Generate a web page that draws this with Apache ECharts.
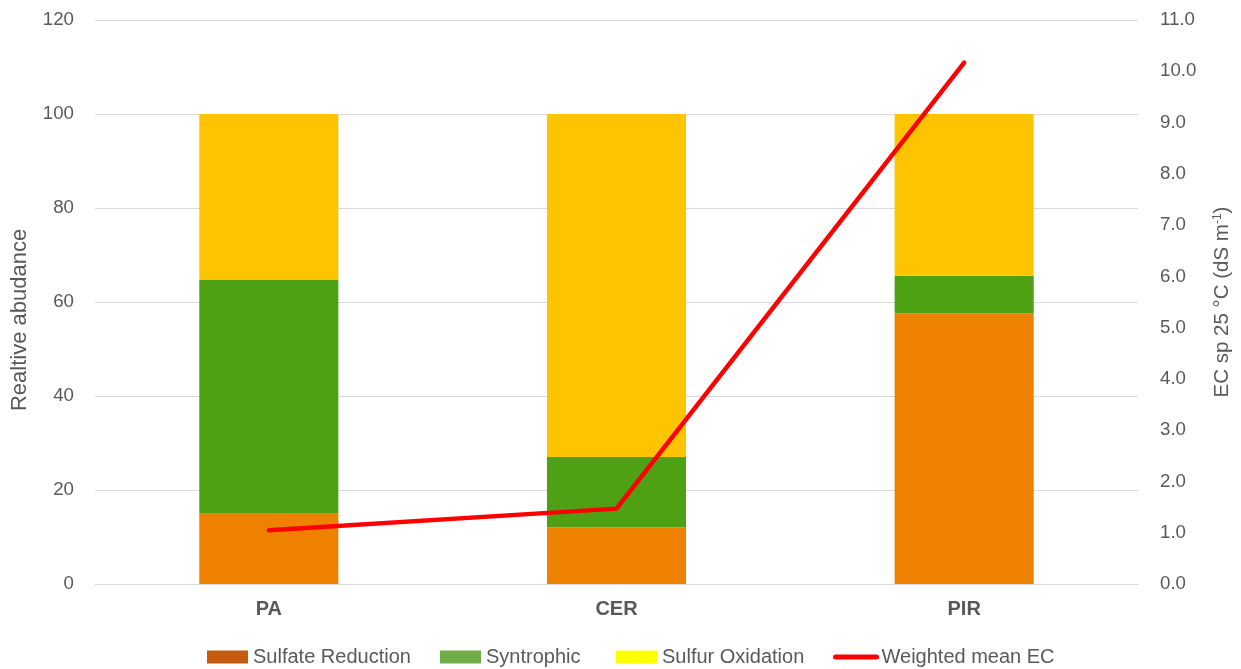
<!DOCTYPE html>
<html>
<head>
<meta charset="utf-8">
<script src="https://cdn.jsdelivr.net/npm/echarts@6/dist/echarts.min.js"></script>
<style>
  html, body { margin: 0; padding: 0; background: #ffffff; }
  #chart { width: 1241px; height: 669px; }
</style>
</head>
<body>
<div id="chart"></div>
<script>
// Sites and functional-group relative abundance (%), stacked to 100
const sites = ['PA', 'CER', 'PIR'];
const sulfateReduction = [15.1, 12.0, 57.6];
const syntrophic = [49.6, 15.0, 8.0];
const sulfurOxidation = [35.3, 73.0, 34.4];
// Weighted mean electrical conductivity (dS m-1)
const weightedMeanEC = [1.05, 1.47, 10.17];

const FONT = '"Liberation Sans", Arial, sans-serif';
const FS_TICK = 18.7;
const FS_TEXT = 20;
const TXT = '#595959';

// One legend block per entry, laid out in fixed columns
function legendEntry(left, item) {
  return {
    left: left,
    top: 647,
    padding: 0,
    itemWidth: 41,
    itemHeight: 13,
    textStyle: { fontFamily: FONT, fontSize: FS_TEXT, color: TXT },
    data: [item]
  };
}

const chart = echarts.init(document.getElementById('chart'), null, { renderer: 'canvas' });

chart.setOption({
  animation: false,
  backgroundColor: '#ffffff',
  textStyle: { fontFamily: FONT },
  grid: { left: 95, right: 103, top: 20, bottom: 85, containLabel: false, outerBoundsMode: 'none' },
  legend: [
    legendEntry(207, { name: 'Sulfate Reduction', icon: 'rect', itemStyle: { color: '#C55A11' } }),
    legendEntry(440, { name: 'Syntrophic', icon: 'rect', itemStyle: { color: '#70AD47' } }),
    legendEntry(616, { name: 'Sulfur Oxidation', icon: 'rect', itemStyle: { color: '#FFFF00' } }),
    legendEntry(833, {
      name: 'Weighted mean EC',
      itemStyle: { opacity: 0 },
      lineStyle: { color: '#FF0000', width: 5, cap: 'round' }
    })
  ],
  xAxis: {
    type: 'category',
    data: sites,
    axisLine: { show: true, lineStyle: { color: '#d9d9d9', width: 1 } },
    axisTick: { show: false },
    axisLabel: { fontFamily: FONT, fontSize: FS_TEXT, fontWeight: 'bold', color: TXT, margin: 15 }
  },
  yAxis: [
    {
      type: 'value',
      min: 0, max: 120, interval: 20,
      name: 'Realtive abudance',
      nameLocation: 'middle',
      nameGap: 64,
      nameTextStyle: { fontFamily: FONT, fontSize: 22, color: TXT, padding: [0, 36, 0, 0] },
      axisLine: { show: false },
      axisTick: { show: false },
      axisLabel: { fontFamily: FONT, fontSize: FS_TICK, color: TXT, margin: 21 },
      splitLine: { show: true, lineStyle: { color: '#d9d9d9', width: 1 } }
    },
    {
      type: 'value',
      min: 0, max: 11, interval: 1,
      position: 'right',
      name: 'EC sp 25 °C (dS m{sup|-1})',
      nameLocation: 'middle',
      nameGap: 74,
      nameRotate: 90,
      nameTextStyle: {
        fontFamily: FONT, fontSize: 20.5, color: TXT,
        rich: {
          sup: { fontFamily: FONT, fontSize: 12, color: TXT, verticalAlign: 'top', padding: [0, 0, 8, 0] }
        }
      },
      axisLine: { show: false },
      axisTick: { show: false },
      axisLabel: {
        fontFamily: FONT, fontSize: FS_TICK, color: TXT, margin: 22,
        formatter: v => v.toFixed(1)
      },
      splitLine: { show: false }
    }
  ],
  series: [
    {
      name: 'Sulfate Reduction', type: 'bar', stack: 'abundance',
      barWidth: '40%', data: sulfateReduction,
      itemStyle: { color: '#EE8200' }
    },
    {
      name: 'Syntrophic', type: 'bar', stack: 'abundance',
      barWidth: '40%', data: syntrophic,
      itemStyle: { color: '#4EA113' }
    },
    {
      name: 'Sulfur Oxidation', type: 'bar', stack: 'abundance',
      barWidth: '40%', data: sulfurOxidation,
      itemStyle: { color: '#FFC400' }
    },
    {
      name: 'Weighted mean EC', type: 'line', yAxisIndex: 1,
      data: weightedMeanEC,
      symbol: 'none',
      lineStyle: { color: '#FF0000', width: 4.5, cap: 'round', join: 'round' },
      itemStyle: { color: '#FF0000' },
      z: 5
    }
  ]
});
</script>
</body>
</html>
